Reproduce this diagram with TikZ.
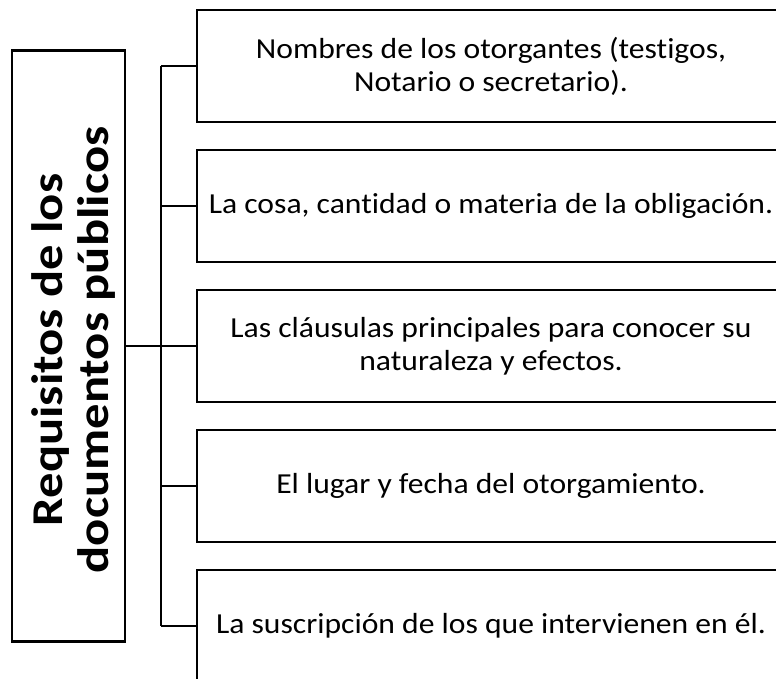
\documentclass[tikz,border=0pt]{standalone}
\usepackage{fontspec}
\setmainfont{Carlito}[Ligatures=NoCommon]
\newfontfamily\bodyfont{Carlito}[Ligatures=NoCommon, FakeStretch=1.09]
\newfontfamily\titlefont{Carlito}[Ligatures=NoCommon, FakeStretch=1.15]
\begin{document}
\begin{tikzpicture}[x=1pt,y=-1pt,
  line width=2.6pt,
  itembox/.style={draw=black, line width=2.6pt, minimum width=588pt, minimum height=112pt,
    inner sep=0pt, align=center, font=\bodyfont\fontsize{29}{33}\selectfont},
  titlebox/.style={draw=black, line width=2.6pt, minimum width=113pt, minimum height=591pt, inner sep=0pt},
  conn/.style={draw=black, line width=2.6pt}]
\useasboundingbox (0,0) rectangle (776,679);
\clip (0,0) rectangle (776,679);
\node[titlebox] (title) at (68.5,346) {};
\node[rotate=90, align=center, font=\titlefont\fontsize{44}{46}\selectfont\bfseries] (titletext) at (74,350)
  {Requisitos de los\\documentos públicos};
\node[itembox] (b1) at (491,66) {Nombres de los otorgantes (testigos,\\Notario o secretario).};
\node[itembox] (b2) at (491,206) {La cosa, cantidad o materia de la obligación.};
\node[itembox] (b3) at (491,346) {Las cláusulas principales para conocer su\\naturaleza y efectos.};
\node[itembox] (b4) at (491,486) {El lugar y fecha del otorgamiento.};
\node[itembox] (b5) at (491,626) {La suscripción de los que intervienen en él.};
\coordinate (t1) at (161,66);
\coordinate (t2) at (161,206);
\coordinate (t3) at (161,346);
\coordinate (t4) at (161,486);
\coordinate (t5) at (161,626);
\draw[conn] (t1) -- (t5);
\draw[conn] (title.east) -- (t3);
\foreach \i in {1,...,5} { \draw[conn] (t\i) -- (b\i.west); }
\end{tikzpicture}
\end{document}
